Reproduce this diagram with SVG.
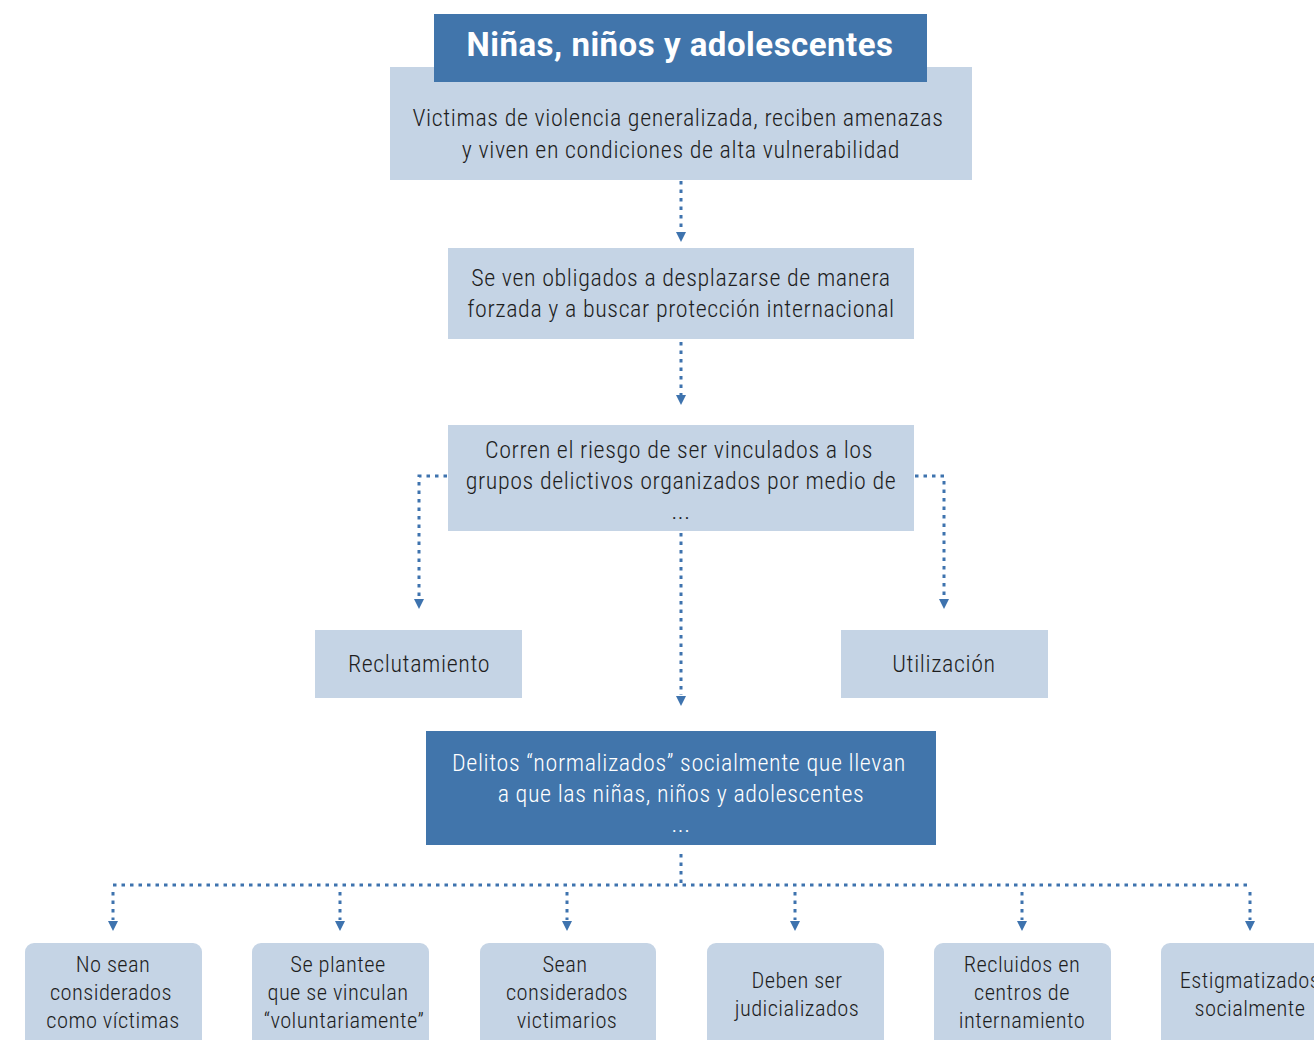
<svg xmlns="http://www.w3.org/2000/svg" width="1314" height="1040" viewBox="0 0 1314 1040">
<defs>
<style>
.lt{fill:#C5D4E5}
.dk{fill:#4175AB}
.t{font-family:"Roboto Condensed","Liberation Sans Narrow","Roboto","Liberation Sans",sans-serif;font-weight:300;font-size:24px;letter-spacing:0.6px;fill:#1e1e1e;text-anchor:middle}
.tw{font-family:"Roboto Condensed","Liberation Sans Narrow","Roboto","Liberation Sans",sans-serif;font-weight:300;font-size:24px;letter-spacing:0.6px;fill:#fff;text-anchor:middle}
.ttl{font-family:"Roboto","Liberation Sans",sans-serif;font-weight:bold;font-size:33px;fill:#fff;text-anchor:middle;letter-spacing:0.5px}
.s{font-family:"Roboto Condensed","Liberation Sans Narrow","Roboto","Liberation Sans",sans-serif;font-weight:300;font-size:22.5px;letter-spacing:0.4px;fill:#1e1e1e;text-anchor:middle}
.c{fill:none;stroke:#3E73AE;stroke-width:3;stroke-dasharray:3.5 5}
.ah{fill:#3E73AE}
</style>
</defs>
<rect width="1314" height="1040" fill="#fff"/>
<g id="connectors">
<path class="c" d="M681,181 V232" />
<path class="ah" d="M676,232 L686,232 L681,242 Z"/>
<path class="c" d="M681,342 V395" />
<path class="ah" d="M676,395 L686,395 L681,405 Z"/>
<path class="c" d="M447,476 H419 V598" />
<path class="ah" d="M414,599 L424,599 L419,609 Z"/>
<path class="c" d="M915,476 H944 V598" />
<path class="ah" d="M939,599 L949,599 L944,609 Z"/>
<path class="c" d="M681,533 V695" />
<path class="ah" d="M676,696 L686,696 L681,706 Z"/>
<path class="c" d="M681,854 V885" />
<path class="c" d="M113,885 H1250" />
<path class="c" d="M113,892 V920 M340,892 V920 M567,892 V920 M795,892 V920 M1022,892 V920 M1250,892 V920" />
<path class="ah" d="M108,921 L118,921 L113,931 Z M335,921 L345,921 L340,931 Z M562,921 L572,921 L567,931 Z M790,921 L800,921 L795,931 Z M1017,921 L1027,921 L1022,931 Z M1245,921 L1255,921 L1250,931 Z"/>
</g>
<g id="n1">
<rect class="lt" x="390" y="67" width="582" height="113"/>
<text class="t" x="678" y="126">Victimas de violencia generalizada, reciben amenazas</text>
<text class="t" x="681" y="158">y viven en condiciones de alta vulnerabilidad</text>
</g>
<g id="title">
<rect class="dk" x="434" y="14" width="493" height="68"/>
<text class="ttl" x="680" y="56">Niñas, niños y adolescentes</text>
</g>
<g id="n2">
<rect class="lt" x="448" y="248" width="466" height="91"/>
<text class="t" x="681" y="286">Se ven obligados a desplazarse de manera</text>
<text class="t" x="681" y="317">forzada y a buscar protección internacional</text>
</g>
<g id="n3">
<rect class="lt" x="448" y="425" width="466" height="106"/>
<text class="t" x="679" y="458">Corren el riesgo de ser vinculados a los</text>
<text class="t" x="681" y="489">grupos delictivos organizados por medio de</text>
<text class="t" x="681" y="519">...</text>
</g>
<g id="n4">
<rect class="lt" x="315" y="630" width="207" height="68"/>
<text class="t" x="419" y="672">Reclutamiento</text>
</g>
<g id="n5">
<rect class="lt" x="841" y="630" width="207" height="68"/>
<text class="t" x="944" y="672">Utilización</text>
</g>
<g id="n6">
<rect class="dk" x="426" y="731" width="510" height="114"/>
<text class="tw" x="679" y="771">Delitos “normalizados” socialmente que llevan</text>
<text class="tw" x="681" y="802">a que las niñas, niños y adolescentes</text>
<text class="tw" x="681" y="832">...</text>
</g>
<g id="b1">
<rect class="lt" x="25" y="943" width="177" height="110" rx="9"/>
<text class="s" x="113" y="972">No sean</text>
<text class="s" x="111" y="1000">considerados</text>
<text class="s" x="113" y="1028">como víctimas</text>
</g>
<g id="b2">
<rect class="lt" x="252" y="943" width="177" height="110" rx="9"/>
<text class="s" x="338" y="972">Se plantee</text>
<text class="s" x="338" y="1000">que se vinculan</text>
<text class="s" x="344" y="1028">“voluntariamente”</text>
</g>
<g id="b3">
<rect class="lt" x="480" y="943" width="176" height="110" rx="9"/>
<text class="s" x="565" y="972">Sean</text>
<text class="s" x="567" y="1000">considerados</text>
<text class="s" x="567" y="1028">victimarios</text>
</g>
<g id="b4">
<rect class="lt" x="707" y="943" width="177" height="110" rx="9"/>
<text class="s" x="797" y="988">Deben ser</text>
<text class="s" x="797" y="1016">judicializados</text>
</g>
<g id="b5">
<rect class="lt" x="934" y="943" width="177" height="110" rx="9"/>
<text class="s" x="1022" y="972">Recluidos en</text>
<text class="s" x="1022" y="1000">centros de</text>
<text class="s" x="1022" y="1028">internamiento</text>
</g>
<g id="b6">
<rect class="lt" x="1161" y="943" width="177" height="110" rx="9"/>
<text class="s" x="1250" y="988">Estigmatizados</text>
<text class="s" x="1250" y="1016">socialmente</text>
</g>
</svg>
